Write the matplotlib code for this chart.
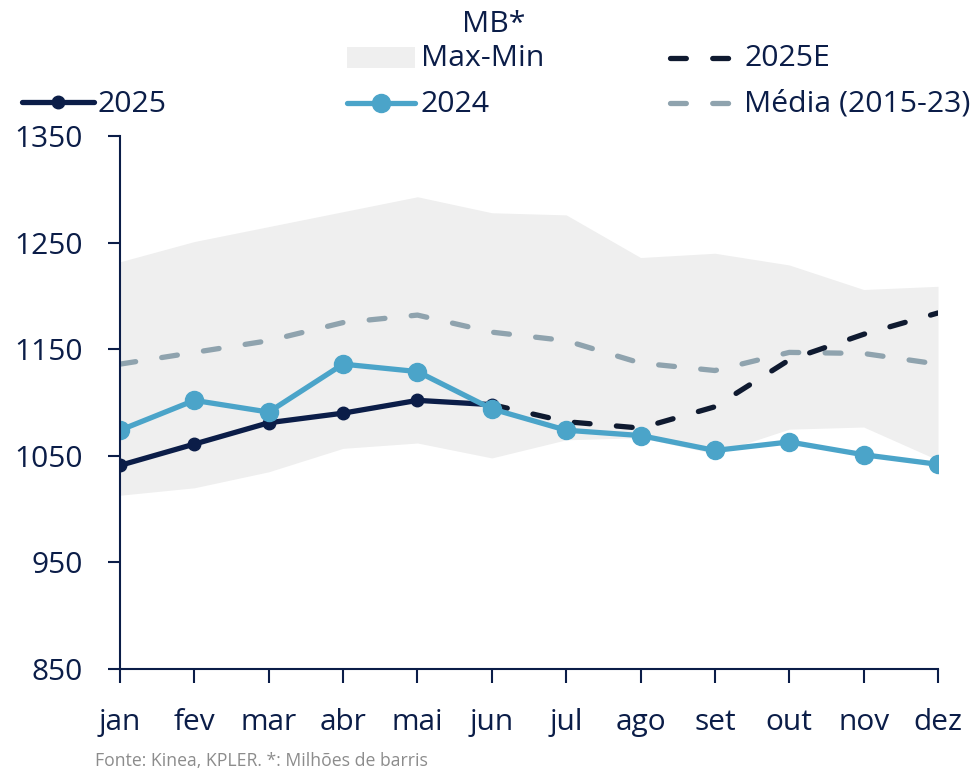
import matplotlib
matplotlib.use("Agg")
import matplotlib.pyplot as plt
from matplotlib.lines import Line2D
from matplotlib.patches import Rectangle

plt.rcParams['font.family'] = ['Open Sans', 'DejaVu Sans']

# ---- data (millions of barrels) ----
months = ['jan', 'fev', 'mar', 'abr', 'mai', 'jun', 'jul', 'ago', 'set', 'out', 'nov', 'dez']
y2025 = [1041, 1061, 1081, 1090, 1102, 1098]
y2025e = [1098, 1082, 1076, 1096, 1140, 1164, 1184]          # jun .. dez
y2024 = [1074, 1102, 1091, 1136, 1129, 1094, 1074, 1069, 1055, 1063, 1051, 1042]
media = [1136, 1147, 1158, 1175, 1182, 1166, 1158, 1137, 1130, 1147, 1146, 1136]
band_max = [1232, 1251, 1265, 1279, 1293, 1278, 1276, 1236, 1240, 1229, 1206, 1209]
band_min = [1013, 1020, 1035, 1057, 1062, 1048, 1065, 1067, 1052, 1075, 1077, 1046]
yticks = [850, 950, 1050, 1150, 1250, 1350]

NAVY = '#0b1d48'
NAVY_E = '#0f1a30'
BLUE = '#4ba4c9'
GREY_D = '#8fa3ae'
BAND = '#efefef'

W, H = 978, 771
fig = plt.figure(figsize=(W / 100, H / 100), dpi=100)
ax = fig.add_axes([120 / W, 1 - 669 / H, (938 - 120) / W, (669 - 136) / H])

x = list(range(len(months)))
x_e = x[5:]

ax.fill_between(x, band_min, band_max, color=BAND, lw=0, zorder=1)
ax.plot(x, media, color=GREY_D, lw=3.8, ls=(0, (3.0, 5.0)),
        dash_capstyle='round', zorder=2)
ax.plot(x_e, y2025e, color=NAVY_E, lw=3.8, ls=(0, (3.0, 5.0)),
        dash_capstyle='round', zorder=3)
ax.plot(x[:len(y2025)], y2025, color=NAVY, lw=3.8, marker='o', ms=9,
        solid_joinstyle='round', zorder=4)
ax.plot(x, y2024, color=BLUE, lw=3.8, marker='o', ms=13,
        solid_joinstyle='round', zorder=5)

ax.set_xlim(0, 11)
ax.set_ylim(850, 1350)
ax.set_xticks(x)
ax.set_xticklabels(months)
ax.set_yticks(yticks)
ax.set_yticklabels([str(v) for v in yticks])

for s in ('top', 'right'):
    ax.spines[s].set_visible(False)
for s in ('left', 'bottom'):
    ax.spines[s].set_color(NAVY)
    ax.spines[s].set_linewidth(1.5)
ax.spines['left'].set_zorder(6)
ax.spines['bottom'].set_zorder(6)

ax.tick_params(axis='y', length=9, width=1.5, color=NAVY, labelcolor=NAVY,
               labelsize=21.5, pad=18)
ax.tick_params(axis='x', length=10, width=1.5, color=NAVY, labelcolor=NAVY,
               labelsize=21.5, pad=18)
ax.patch.set_visible(False)


# ---- legend, laid out in figure pixels ----
def fx(px):
    return px / W


def fy(py):
    return 1 - py / H


tf = fig.transFigure
LEG_FS = 21.8
fig.text(fx(494), fy(25), 'MB*', ha='center', va='center', fontsize=LEG_FS, color=NAVY)

fig.patches.append(Rectangle((fx(347), fy(68)), fx(415) - fx(347), fy(47) - fy(68),
                             transform=tf, color=BAND, lw=0))
fig.text(fx(421), fy(59), 'Max-Min', ha='left', va='center', fontsize=LEG_FS, color=NAVY)

fig.lines.append(Line2D([fx(22), fx(94)], [fy(102), fy(102)], transform=tf,
                        color=NAVY, lw=3.8, solid_capstyle='round'))
fig.lines.append(Line2D([fx(58)], [fy(102)], transform=tf, color=NAVY,
                        marker='o', ms=9, lw=0))
fig.text(fx(98), fy(104), '2025', ha='left', va='center', fontsize=LEG_FS, color=NAVY)

fig.lines.append(Line2D([fx(347), fx(415)], [fy(103), fy(103)], transform=tf,
                        color=BLUE, lw=3.8, solid_capstyle='round'))
fig.lines.append(Line2D([fx(381)], [fy(103)], transform=tf, color=BLUE,
                        marker='o', ms=13, lw=0))
fig.text(fx(421), fy(104), '2024', ha='left', va='center', fontsize=LEG_FS, color=NAVY)

for yy, col, lab in ((58, NAVY_E, '2025E'), (103, GREY_D, 'Média (2015-23)')):
    fig.lines.append(Line2D([fx(670), fx(730)], [fy(yy), fy(yy)], transform=tf,
                            color=col, lw=3.8, ls=(0, (3.0, 5.0)),
                            dash_capstyle='round'))
    fig.text(fx(744), fy(yy + 1), lab, ha='left', va='center', fontsize=LEG_FS, color=NAVY)

fig.text(fx(95), fy(761), 'Fonte: Kinea, KPLER. *: Milhões de barris', ha='left',
         va='center', fontsize=12.7, color='#8c8c8c')

fig.savefig('out.png', dpi=100, facecolor='white')
